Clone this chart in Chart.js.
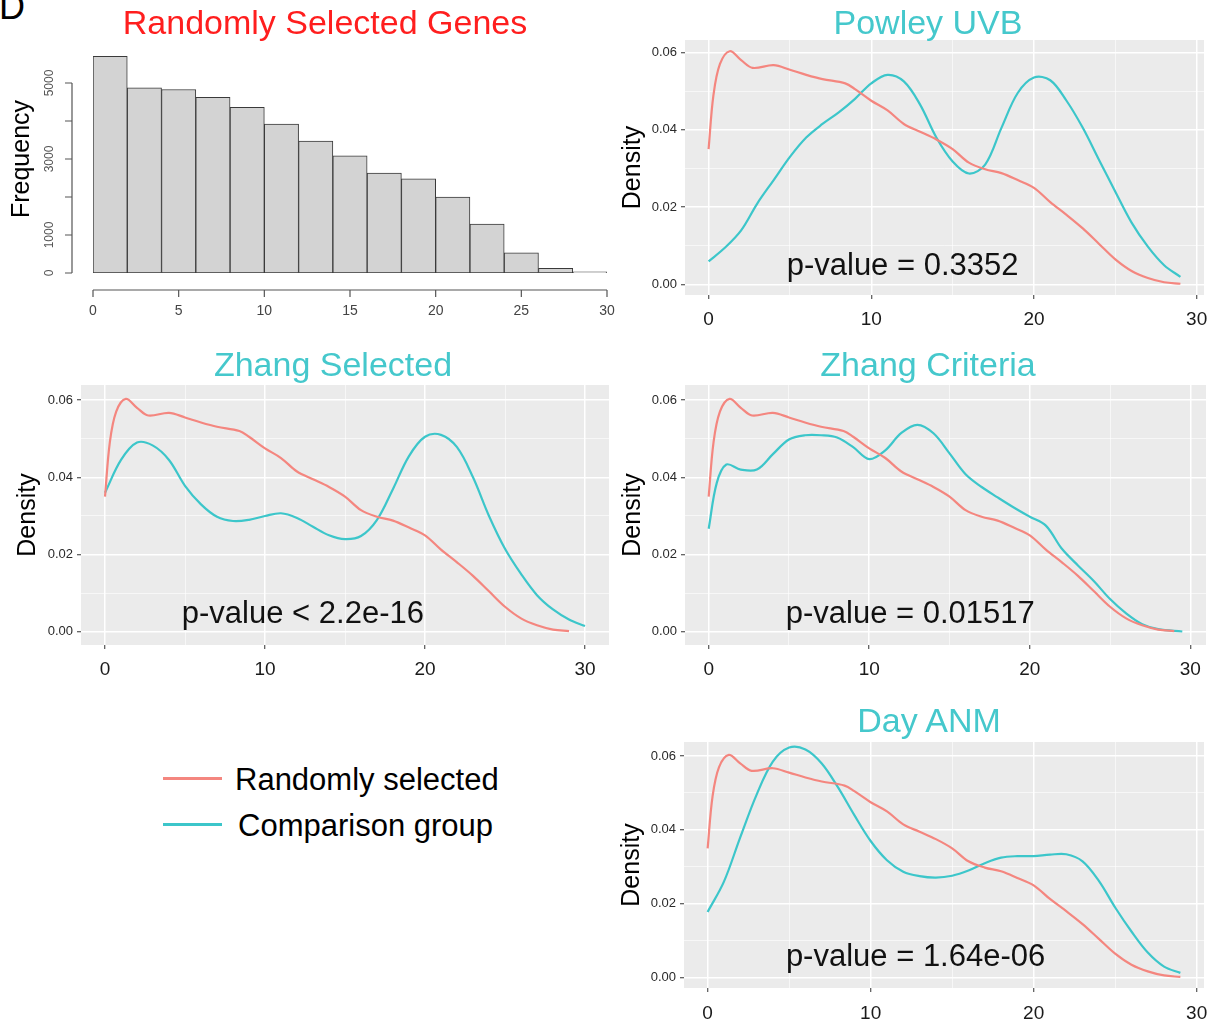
<!DOCTYPE html>
<html>
<head>
<meta charset="utf-8">
<script src="https://cdn.jsdelivr.net/npm/chart.js@4.4.1/dist/chart.umd.min.js"></script>
<style>
  body { margin: 0; background: #fff; font-family: 'Liberation Sans', Arial, Helvetica, sans-serif; }
  #page { position: relative; width: 1218px; height: 1024px; overflow: hidden; }
  canvas { position: absolute; z-index: 1; }
  .ttl { position: absolute; z-index: 2; font-size: 34px; line-height: 1; white-space: nowrap; transform: translateX(-50%); }
  .red { color: #ff1e1e; }
  .teal { color: #45c8cc; }
  .tag { position: absolute; left: -1px; top: -11px; font-size: 36px; line-height: 1; color: #000; }
  .lg-line { position: absolute; left: 163px; width: 59px; height: 3px; }
  .lg-text { position: absolute; font-size: 31px; line-height: 1; color: #000; white-space: nowrap; }
</style>
</head>
<body>
<div id="page">
  <div class="tag">D</div>

  <canvas id="cHist" width="620" height="290" style="left:0; top:40px;"></canvas>
  <canvas id="cPowley" width="606" height="300" style="left:612px; top:35px;"></canvas>
  <canvas id="cZSel" width="618" height="305" style="left:0; top:380px;"></canvas>
  <canvas id="cZCrit" width="606" height="305" style="left:612px; top:380px;"></canvas>
  <canvas id="cDay" width="606" height="287" style="left:612px; top:737px;"></canvas>

  <div class="ttl red" style="left:325px; top:5px;">Randomly Selected Genes</div>
  <div class="ttl teal" style="left:928px; top:5px;">Powley UVB</div>
  <div class="ttl teal" style="left:333px; top:347px;">Zhang Selected</div>
  <div class="ttl teal" style="left:928px; top:347px;">Zhang Criteria</div>
  <div class="ttl teal" style="left:929px; top:703px;">Day ANM</div>

  <div class="lg-line" style="top:777px; background:#f4867f;"></div>
  <div class="lg-text" style="left:235px; top:764px;">Randomly selected</div>
  <div class="lg-line" style="top:823px; background:#3cc6ca;"></div>
  <div class="lg-text" style="left:238px; top:810px;">Comparison group</div>
</div>

<script>
Chart.defaults.font.family = "'Liberation Sans', Arial, Helvetica, sans-serif";
Chart.defaults.color = '#333';
Chart.defaults.animation = false;

const RED = '#f4867f';
const TEAL = '#3cc6ca';

// ─── Histogram: randomly selected genes ─────────────────────
const histBinMids = [1, 3, 5, 7, 9, 11, 13, 15, 17, 19, 21, 23, 25, 27, 29];
const histCounts  = [5700, 4870, 4830, 4620, 4360, 3920, 3470, 3085, 2630, 2480, 1995, 1290, 530, 125, 30];
const histYTicks  = [0, 1000, 2000, 3000, 4000, 5000];
const histYLabels = ['0', '1000', '', '3000', '', '5000'];

// ─── Density curves ─────────────────────────────────────────
const randX = [0, 0.3, 0.7, 1.3, 2, 2.7, 4, 5, 6, 7, 8.4, 9, 10, 11, 12, 13, 14, 15, 16, 17, 18, 19, 20, 21, 22, 23, 24, 25, 26, 27, 28, 29];
const randY = [0.035, 0.049, 0.057, 0.0603, 0.058, 0.056, 0.0567, 0.0555, 0.0542, 0.0531, 0.052, 0.0505, 0.0475, 0.045, 0.0415, 0.0395, 0.0375, 0.035, 0.0315, 0.0298, 0.0288, 0.027, 0.025, 0.0213, 0.018, 0.0145, 0.0105, 0.0065, 0.0035, 0.0017, 0.0006, 0.0002];

const powleyX = [0, 1, 2, 3, 4, 5, 6, 7, 8, 9, 10, 11, 12, 13, 14, 15, 16, 17, 18, 19, 20, 21, 22, 23, 24, 25, 26, 27, 28, 29];
const powleyY = [0.006, 0.0095, 0.014, 0.021, 0.027, 0.033, 0.038, 0.0415, 0.0445, 0.048, 0.052, 0.0542, 0.0525, 0.0465, 0.038, 0.0318, 0.0287, 0.031, 0.0405, 0.0495, 0.0535, 0.0528, 0.0475, 0.0405, 0.0322, 0.024, 0.016, 0.0098, 0.005, 0.002];

const zSelX = [0, 1, 2, 3, 4, 5, 6, 7, 8, 9, 10, 11, 12, 13, 14, 15, 16, 17, 18, 19, 20, 21, 22, 23, 24, 25, 26, 27, 28, 29, 30];
const zSelY = [0.036, 0.0445, 0.049, 0.0482, 0.0445, 0.0378, 0.033, 0.0298, 0.0287, 0.029, 0.03, 0.0307, 0.0295, 0.0272, 0.025, 0.024, 0.0248, 0.029, 0.037, 0.0455, 0.0505, 0.051, 0.0478, 0.04, 0.03, 0.0215, 0.015, 0.0095, 0.0058, 0.0032, 0.0015];

const zCritX = [0, 0.5, 1.1, 2, 3, 4, 5, 6, 7, 8, 9, 10, 11, 12, 13, 14, 15, 16, 17, 18, 19, 20, 21, 22, 23, 24, 25, 26, 27, 28, 29.5];
const zCritY = [0.0267, 0.0385, 0.0433, 0.042, 0.042, 0.046, 0.0498, 0.0509, 0.0509, 0.0503, 0.0478, 0.0447, 0.047, 0.0515, 0.0536, 0.0514, 0.0462, 0.0408, 0.0375, 0.0348, 0.0322, 0.0298, 0.0275, 0.0215, 0.0172, 0.0131, 0.0085, 0.0048, 0.002, 0.0007, 0.0001];

const dayX = [0, 1, 2, 3, 4, 5, 6, 7, 8, 9, 10, 11, 12, 13, 14, 15, 16, 17, 18, 19, 20, 21, 22, 23, 24, 25, 26, 27, 28, 29];
const dayY = [0.0178, 0.026, 0.038, 0.0495, 0.0585, 0.0623, 0.0618, 0.058, 0.0515, 0.044, 0.037, 0.0318, 0.0287, 0.0275, 0.0271, 0.0276, 0.029, 0.031, 0.0325, 0.0329, 0.0329, 0.0333, 0.0334, 0.0315, 0.0262, 0.019, 0.0125, 0.0068, 0.003, 0.0013];

// ─── Plugins ────────────────────────────────────────────────
const panelBg = {
    id: 'panelBg',
    beforeDraw(chart, args, opts) {
        if (!opts.color) return;
        const { ctx, chartArea: a } = chart;
        ctx.save();
        ctx.fillStyle = opts.color;
        ctx.fillRect(a.left, a.top, a.width, a.height);
        ctx.restore();
    }
};

const pNote = {
    id: 'pNote',
    afterDatasetsDraw(chart, args, opts) {
        if (!opts.text) return;
        const { ctx, scales: { x, y } } = chart;
        ctx.save();
        ctx.font = '31px ' + Chart.defaults.font.family;
        ctx.fillStyle = '#111';
        ctx.textAlign = 'left';
        ctx.textBaseline = 'middle';
        ctx.fillText(opts.text, x.getPixelForValue(opts.x), y.getPixelForValue(opts.y));
        ctx.restore();
    }
};

// base-R style detached axes for the histogram
const baseAxes = {
    id: 'baseAxes',
    afterDraw(chart, args, opts) {
        if (!opts.enabled) return;
        const { ctx, chartArea: a, scales: { x, y } } = chart;
        const ay = a.bottom + 17, ax = a.left - 21;
        ctx.save();
        ctx.strokeStyle = '#555';
        ctx.lineWidth = 1.2;
        ctx.beginPath();
        ctx.moveTo(x.getPixelForValue(0), ay);
        ctx.lineTo(x.getPixelForValue(30), ay);
        x.ticks.forEach(t => {
            const px = x.getPixelForValue(t.value);
            ctx.moveTo(px, ay); ctx.lineTo(px, ay + 7);
        });
        ctx.moveTo(ax, y.getPixelForValue(0));
        ctx.lineTo(ax, y.getPixelForValue(5000));
        histYTicks.forEach(v => {
            const py = y.getPixelForValue(v);
            ctx.moveTo(ax, py); ctx.lineTo(ax - 7, py);
        });
        ctx.stroke();

        ctx.fillStyle = '#555';
        ctx.font = '12px ' + Chart.defaults.font.family;
        ctx.textAlign = 'center';
        ctx.textBaseline = 'middle';
        histYTicks.forEach((v, i) => {
            if (!histYLabels[i]) return;
            ctx.save();
            ctx.translate(ax - 22, y.getPixelForValue(v));
            ctx.rotate(-Math.PI / 2);
            ctx.fillText(histYLabels[i], 0, 0);
            ctx.restore();
        });
        ctx.restore();
    }
};

Chart.register(panelBg, pNote, baseAxes);

// fixed-size axes so every chart area lands where the figure has it
function fixBox(size, key) {
    return s => {
        s[key] = size;
        s.paddingTop = 0; s.paddingBottom = 0;
        s.paddingLeft = 0; s.paddingRight = 0;
    };
}

// ─── Histogram ──────────────────────────────────────────────
new Chart(document.getElementById('cHist'), {
    type: 'bar',
    data: {
        datasets: [{
            data: histBinMids.map((m, i) => ({ x: m, y: histCounts[i] })),
            backgroundColor: '#d3d3d3', borderColor: '#3a3a3a', borderWidth: 1,
            barPercentage: 1, categoryPercentage: 1, borderSkipped: false
        }]
    },
    options: {
        responsive: false,
        layout: { padding: { left: 0, top: 5, right: 13, bottom: 0 } },
        plugins: { legend: { display: false }, tooltip: { enabled: false }, baseAxes: { enabled: true } },
        scales: {
            x: {
                type: 'linear', min: 0, max: 30, offset: false,
                ticks: { stepSize: 5, padding: 2, color: '#444', font: { size: 14 }, maxRotation: 0 },
                grid: { display: false, drawTicks: true, tickLength: 28, tickColor: 'rgba(0,0,0,0)' },
                border: { display: false },
                afterFit: fixBox(57, 'height')
            },
            y: {
                min: 0, max: 6000,
                ticks: { display: false },
                grid: { display: false, drawTicks: false }, border: { display: false },
                title: { display: true, text: 'Frequency', color: '#000', font: { size: 25 }, padding: { top: 7, bottom: 0 } },
                afterFit: fixBox(93, 'width')
            }
        }
    }
});

// ─── Density panels ─────────────────────────────────────────
const panels = [
    { id: 'cPowley', left: 612, top: 35, right: 1218, bottom: 335, aL: 685, aT: 40, aR: 1204, aB: 295,
      xMin: -1.45, xMax: 30.45, yMin: -0.0027, yMax: 0.0632, labPad: 6, xPad: 9,
      xs: powleyX, ys: powleyY, note: 'p-value = 0.3352', noteY: 0.0048 },
    { id: 'cZSel', left: 0, top: 380, right: 618, bottom: 685, aL: 81, aT: 385, aR: 609, aB: 645,
      xMin: -1.5, xMax: 31.5, yMin: -0.0034, yMax: 0.0639, labPad: 13, xPad: 9,
      xs: zSelX, ys: zSelY, note: 'p-value < 2.2e-16', noteY: 0.0046 },
    { id: 'cZCrit', left: 612, top: 380, right: 1218, bottom: 685, aL: 685, aT: 385, aR: 1206, aB: 645,
      xMin: -1.475, xMax: 30.975, yMin: -0.0034, yMax: 0.0639, labPad: 6, xPad: 9,
      xs: zCritX, ys: zCritY, note: 'p-value = 0.01517', noteY: 0.0046 },
    { id: 'cDay', left: 612, top: 737, right: 1218, bottom: 1024, aL: 684, aT: 742, aR: 1204, aB: 988,
      xMin: -1.45, xMax: 30.45, yMin: -0.0028, yMax: 0.0638, labPad: 5, xPad: 10,
      xs: dayX, ys: dayY, note: 'p-value = 1.64e-06', noteY: 0.0054 }
];

const isMajorX = c => c.tick && Math.round(c.tick.value) % 10 === 0;
const isMajorY = c => c.tick && Math.round(c.tick.value * 100) % 2 === 0;

function densityCfg(p) {
    return {
        type: 'line',
        data: {
            datasets: [
                { label: 'Randomly selected', data: randX.map((x, i) => ({ x, y: randY[i] })),
                  borderColor: RED, borderWidth: 2.2, pointRadius: 0, tension: 0.35, fill: false },
                { label: 'Comparison group', data: p.xs.map((x, i) => ({ x, y: p.ys[i] })),
                  borderColor: TEAL, borderWidth: 2.2, pointRadius: 0, tension: 0.35, fill: false }
            ]
        },
        options: {
            responsive: false,
            layout: { padding: { left: 0, top: p.aT - p.top, right: p.right - p.aR, bottom: 0 } },
            plugins: {
                legend: { display: false }, tooltip: { enabled: false },
                panelBg: { color: '#ebebeb' },
                pNote: { text: p.note, x: 4.8, y: p.noteY }
            },
            scales: {
                x: {
                    type: 'linear', min: p.xMin, max: p.xMax,
                    ticks: { stepSize: 5, includeBounds: false, autoSkip: false, maxRotation: 0, padding: p.xPad,
                             color: '#1a1a1a', font: { size: 19 },
                             callback: v => (Math.round(v) % 10 === 0 ? String(v) : '') },
                    grid: { color: '#ffffff', lineWidth: c => (isMajorX(c) ? 1.5 : 0.6), tickLength: 4,
                            tickWidth: 1, tickColor: c => (isMajorX(c) ? '#333' : 'rgba(0,0,0,0)') },
                    border: { display: false },
                    afterFit: fixBox(p.bottom - p.aB, 'height')
                },
                y: {
                    min: p.yMin, max: p.yMax,
                    ticks: { stepSize: 0.01, includeBounds: false, autoSkip: false, padding: 4,
                             color: '#2a2a2a', font: { size: 13 },
                             callback: v => { const k = Math.round(v * 100); return k % 2 === 0 ? (k / 100).toFixed(2) : ''; } },
                    grid: { color: '#ffffff', lineWidth: c => (isMajorY(c) ? 1.5 : 0.6), tickLength: 4,
                            tickWidth: 1, tickColor: c => (isMajorY(c) ? '#333' : 'rgba(0,0,0,0)') },
                    border: { display: false },
                    title: { display: true, text: 'Density', color: '#000', font: { size: 25 }, padding: { top: p.labPad, bottom: 0 } },
                    afterFit: fixBox(p.aL - p.left, 'width')
                }
            }
        }
    };
}

panels.forEach(p => new Chart(document.getElementById(p.id), densityCfg(p)));
</script>
</body>
</html>
